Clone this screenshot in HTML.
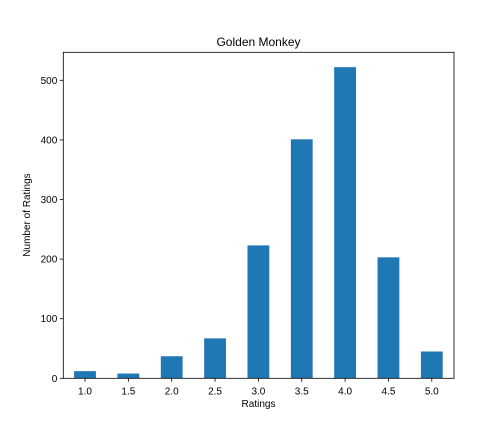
<!DOCTYPE html>
<html><head><meta charset="utf-8"><style>
body{margin:0;background:#fff;font-family:"Liberation Sans","DejaVu Sans",sans-serif;}
</style></head><body>
<svg id="chart" width="504" height="432" xmlns="http://www.w3.org/2000/svg">
<rect width="504" height="432" fill="#fff"/>
<g id="bars"></g>
<g id="axes"></g>
<text x="258.5" y="46" text-anchor="middle" font-size="12">Golden Monkey</text>
<text x="258.5" y="407" text-anchor="middle" font-size="10">Ratings</text>
<text x="0" y="0" transform="translate(30,215) rotate(-90)" text-anchor="middle" font-size="10">Number of Ratings</text>
</svg>
<script>
const categories=["1.0","1.5","2.0","2.5","3.0","3.5","4.0","4.5","5.0"];
const values=[12,8,37,67,223,401,522,203,45];
const yTicks=[0,100,200,300,400,500];
const L=63.3,R=454,T=52.3,B=378.3;
const ns="http://www.w3.org/2000/svg";
function y(v){return B-v*(B-80.3)/500;}
function x(i){return 85+i*43.35;}
const bars=document.getElementById('bars'),axes=document.getElementById('axes');
function mk(tag,attrs,parent){const e=document.createElementNS(ns,tag);for(const k in attrs)e.setAttribute(k,attrs[k]);parent.appendChild(e);return e;}
values.forEach((v,i)=>{
 const r=mk('rect',{x:x(i)-10.9,y:y(v),width:21.8,height:B-y(v),fill:'#1f77b4'},bars);
 
 
 const t=mk('line',{x1:x(i),x2:x(i),y1:B,y2:B+3.5,stroke:'#000','stroke-width':0.8},axes);
 
 
 const lb=mk('text',{x:x(i),y:B+16,'text-anchor':'middle','font-size':10},axes);
 lb.textContent=categories[i];
 
 
});
yTicks.forEach(v=>{
 const t=mk('line',{x1:L-3.5,x2:L,y1:y(v),y2:y(v),stroke:'#000','stroke-width':0.8},axes);
 
 
 const lb=mk('text',{x:L-6,y:y(v)+3.5,'text-anchor':'end','font-size':10},axes);
 lb.textContent=v;
 
 
});
const f=mk('rect',{x:L,y:T,width:R-L,height:B-T,fill:'none',stroke:'#000','stroke-width':0.8},axes);


</script>
</body></html>
